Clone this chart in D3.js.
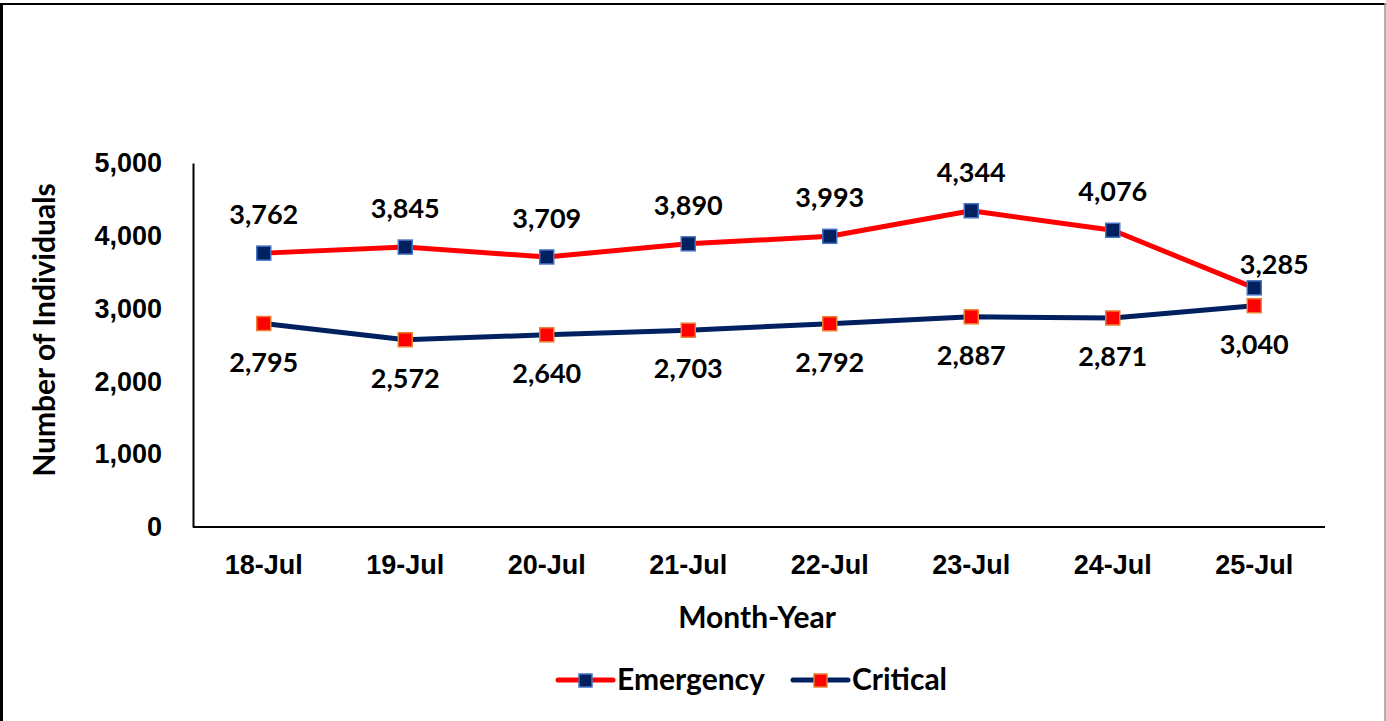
<!DOCTYPE html>
<meta charset="utf-8">
<title>Emergency and Critical</title>
<style>
	body { margin: 0; background: #fff; }
	svg { display: block; font-family: Lato, 'Open Sans', sans-serif; font-weight: bold; }
</style>
<body>
<div id="chart"></div>
<script src="https://d3js.org/d3.v7.min.js"></script>
<script>
// ---- donnees ----
var days = ["18-Jul", "19-Jul", "20-Jul", "21-Jul", "22-Jul", "23-Jul", "24-Jul", "25-Jul"];
var emergency = [3762, 3845, 3709, 3890, 3993, 4344, 4076, 3285];
var critical = [2795, 2572, 2640, 2703, 2792, 2887, 2871, 3040];
var yTicks = [0, 1000, 2000, 3000, 4000, 5000];

var width = 1386, height = 721;
var plotLeft = 193, plotRight = 1325, plotTop = 163, plotBottom = 527;

var svg = d3.select("#chart").append("svg")
	.attr("width", width)
	.attr("height", height);

// cadre
svg.append("line").attr("x1", 0).attr("x2", 1386).attr("y1", 4).attr("y2", 4)
	.attr("stroke", "#000").attr("stroke-width", 2);
svg.append("line").attr("x1", 1.5).attr("x2", 1.5).attr("y1", 3).attr("y2", 721)
	.attr("stroke", "#000").attr("stroke-width", 3);
svg.append("line").attr("x1", 1385).attr("x2", 1385).attr("y1", 3).attr("y2", 721)
	.attr("stroke", "#999").attr("stroke-width", 1.5);

var x = d3.scaleBand().domain(days).range([plotLeft, plotRight]);
var y = d3.scaleLinear().domain([0, 5000]).range([plotBottom, plotTop]);
var fmt = d3.format(",");

// axes
var yAxis = svg.append("g")
	.attr("transform", "translate(" + plotLeft + ",0)")
	.call(d3.axisLeft(y).tickValues(yTicks).tickFormat(fmt).tickSize(0).tickPadding(31));
yAxis.select(".domain").attr("stroke", "#000").attr("stroke-width", 2);
yAxis.selectAll("text").attr("font-size", 27).attr("font-family", null).attr("font-weight", "bold").attr("fill", "#000");

var xAxis = svg.append("g")
	.attr("transform", "translate(0," + plotBottom + ")")
	.call(d3.axisBottom(x).tickSize(0).tickPadding(28));
xAxis.select(".domain").attr("stroke", "#000").attr("stroke-width", 2).attr("d", "M" + plotLeft + ",0H" + plotRight);
xAxis.selectAll("text").attr("font-size", 27).attr("font-family", null).attr("font-weight", "bold").attr("fill", "#000");

// titres
svg.append("text").attr("x", 757).attr("y", 628)
	.attr("text-anchor", "middle").attr("font-size", 30).text("Month-Year");
svg.append("text").attr("transform", "translate(55,330) rotate(-90)")
	.attr("text-anchor", "middle").attr("font-size", 30).text("Number of Individuals");

var series = [
	{ name: "Emergency", values: emergency, line: "#ff0000", fill: "#002060", edge: "#4472c4", dy: -29 },
	{ name: "Critical", values: critical, line: "#002060", fill: "#ff0000", edge: "#ed7d31", dy: 48 }
];

// la derniere etiquette Emergency est decalee a droite (comme dans l'original)
function labelShift(s, i) {
	if (s.name === "Emergency" && i === days.length - 1) return { dx: 20, dy: 15 };
	return { dx: 0, dy: 0 };
}

var line = d3.line()
	.x(function (d, i) { return x(days[i]) + x.bandwidth() / 2; })
	.y(function (d) { return y(d); });

series.forEach(function (s) {
	svg.append("path").datum(s.values)
		.attr("d", line)
		.attr("fill", "none")
		.attr("stroke", s.line)
		.attr("stroke-width", 5)
		.attr("stroke-linejoin", "round");

	svg.selectAll(null).data(s.values).enter().append("rect")
		.attr("x", function (d, i) { return x(days[i]) + x.bandwidth() / 2 - 7; })
		.attr("y", function (d) { return y(d) - 7; })
		.attr("width", 14).attr("height", 14)
		.attr("fill", s.fill).attr("stroke", s.edge).attr("stroke-width", 1.5);

	svg.selectAll(null).data(s.values).enter().append("text")
		.attr("x", function (d, i) { return x(days[i]) + x.bandwidth() / 2 + labelShift(s, i).dx; })
		.attr("y", function (d, i) { return y(d) + s.dy + labelShift(s, i).dy; })
		.attr("text-anchor", "middle")
		.attr("font-size", 27)
		.text(function (d) { return fmt(d); });
});

// legende
var legend = svg.append("g").attr("transform", "translate(558,680)");
series.forEach(function (s, i) {
	var g = legend.append("g").attr("transform", "translate(" + (i === 0 ? 0 : 235) + ",0)");
	g.append("line").attr("x1", 0).attr("x2", 55).attr("y1", 0).attr("y2", 0)
		.attr("stroke", s.line).attr("stroke-width", 5).attr("stroke-linecap", "round");
	g.append("rect").attr("x", 21).attr("y", -6).attr("width", 13).attr("height", 13)
		.attr("fill", s.fill).attr("stroke", s.edge).attr("stroke-width", 1.5);
	g.append("text").attr("x", 59).attr("y", 10).attr("font-size", 30).text(s.name);
});
</script>
</body>
